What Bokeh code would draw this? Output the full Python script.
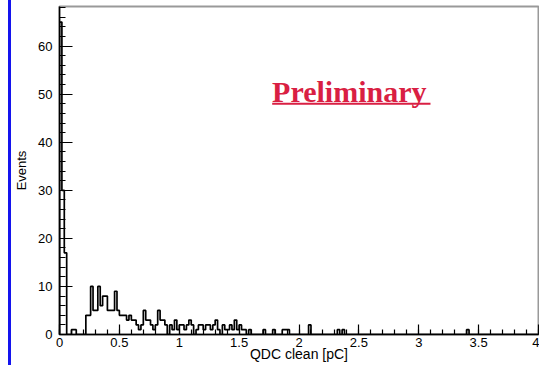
from bokeh.plotting import figure
from bokeh.models import (Range1d, SingleIntervalTicker, CustomJSTickFormatter,
                          Label, BoxAnnotation, Div)
from bokeh.layouts import row
from bokeh.embed import file_html
from bokeh.resources import INLINE

# QDC clean charge histogram: 200 bins of 0.02 pC from 0 to 4 pC
bin_width = 0.02
counts = [
    65, 30, 17, 0, 0, 1, 1, 0, 0, 0,   0, 4, 4, 10, 5, 5, 10, 6, 8, 8,
    5, 5, 5, 9, 5, 4, 4, 4, 3, 4,      3, 3, 2, 1, 2, 5, 3, 3, 2, 1,
    2, 5, 3, 3, 2, 0, 2, 1, 3, 1,      2, 2, 1, 2, 3, 2, 0, 1, 2, 2,
    1, 2, 2, 1, 2, 3, 1, 0, 2, 1,      1, 2, 1, 3, 1, 2, 1, 1, 0, 1,
    0, 0, 0, 0, 0, 1, 0, 0, 0, 1,      0, 0, 0, 1, 1, 1, 0, 0, 0, 0,
    0, 0, 0, 0, 2, 0, 0, 0, 0, 0,      0, 0, 0, 0, 0, 0, 1, 0, 1, 0,
    0, 0, 0, 0, 0, 0, 0, 0, 0, 0,      0, 0, 0, 0, 0, 0, 0, 0, 0, 0,
    0, 0, 0, 0, 0, 0, 0, 0, 0, 0,      0, 0, 0, 0, 0, 0, 0, 0, 0, 0,
    0, 0, 0, 0, 0, 0, 0, 0, 0, 0,      1, 0, 0, 0, 0, 0, 0, 0, 0, 0,
    0, 0, 0, 0, 0, 0, 0, 0, 0, 0,      0, 0, 0, 0, 0, 0, 0, 0, 0, 0,
]
x_title = "QDC clean [pC]"
y_title = "Events"
stamp = "Preliminary"

edges = [i * bin_width for i in range(len(counts) + 1)]
xs = [edges[0]] + edges
ys = [0] + counts + [0]

FONT = "Liberation Sans"

p = figure(width=528, height=365, output_backend="svg", toolbar_location=None,
           x_range=Range1d(0, 4), y_range=Range1d(0, 68.25),
           min_border_left=48, min_border_right=1, min_border_top=6,
           min_border_bottom=31, margin=0)
p.background_fill_color = "white"
p.border_fill_color = "white"
p.outline_line_color = "#999999"
p.outline_line_width = 2
p.xgrid.visible = False
p.ygrid.visible = False

# histogram outline, ROOT style
p.step(xs, ys, mode="after", line_color="black", line_width=1.7)

for ax in (p.xaxis[0], p.yaxis[0]):
    ax.axis_line_color = "black"
    ax.axis_line_width = 1.5
    ax.major_tick_line_color = "black"
    ax.minor_tick_line_color = "black"
    ax.major_tick_line_width = 1.2
    ax.minor_tick_line_width = 1.2
    ax.major_tick_out = 0
    ax.minor_tick_out = 0
    ax.major_label_text_font = FONT
    ax.major_label_text_font_size = "13px"
    ax.major_label_text_color = "black"
    ax.axis_label_text_font = FONT
    ax.axis_label_text_font_size = "13px"
    ax.axis_label_text_font_style = "normal"
    ax.axis_label_text_color = "black"

xa = p.xaxis[0]
xa.ticker = SingleIntervalTicker(interval=0.5, num_minor_ticks=5)
xa.formatter = CustomJSTickFormatter(code="return String(Number(tick.toFixed(2)));")
xa.major_tick_in = 10
xa.minor_tick_in = 5
xa.major_label_standoff = 3
xa.axis_label = x_title
xa.axis_label_standoff = -4
xa.axis_label_text_font_size = "14px"

ya = p.yaxis[0]
ya.ticker = SingleIntervalTicker(interval=10, num_minor_ticks=5)
ya.major_tick_in = 13
ya.minor_tick_in = 6
ya.major_label_standoff = 7
ya.axis_label = y_title
ya.axis_label_standoff = 6
ya.axis_label_text_font_size = "13px"

# stamp with underline
p.add_layout(Label(x=1.775, y=50.6, text=stamp, text_align="left",
                   text_baseline="alphabetic", text_font="Liberation Serif",
                   text_font_style="bold", text_font_size="30px",
                   text_color="#d91f43"))
p.add_layout(BoxAnnotation(left=1.776, right=3.098, bottom=47.8, top=48.23,
                           fill_color="#d91f43", fill_alpha=1.0,
                           line_color=None))

edge = Div(text="", width=11, height=365, margin=0,
           styles={"border-right": "3px solid #1414ee", "box-sizing": "border-box"})

layout = row(edge, p, spacing=0)
open("out.html", "w").write(file_html(layout, INLINE))
